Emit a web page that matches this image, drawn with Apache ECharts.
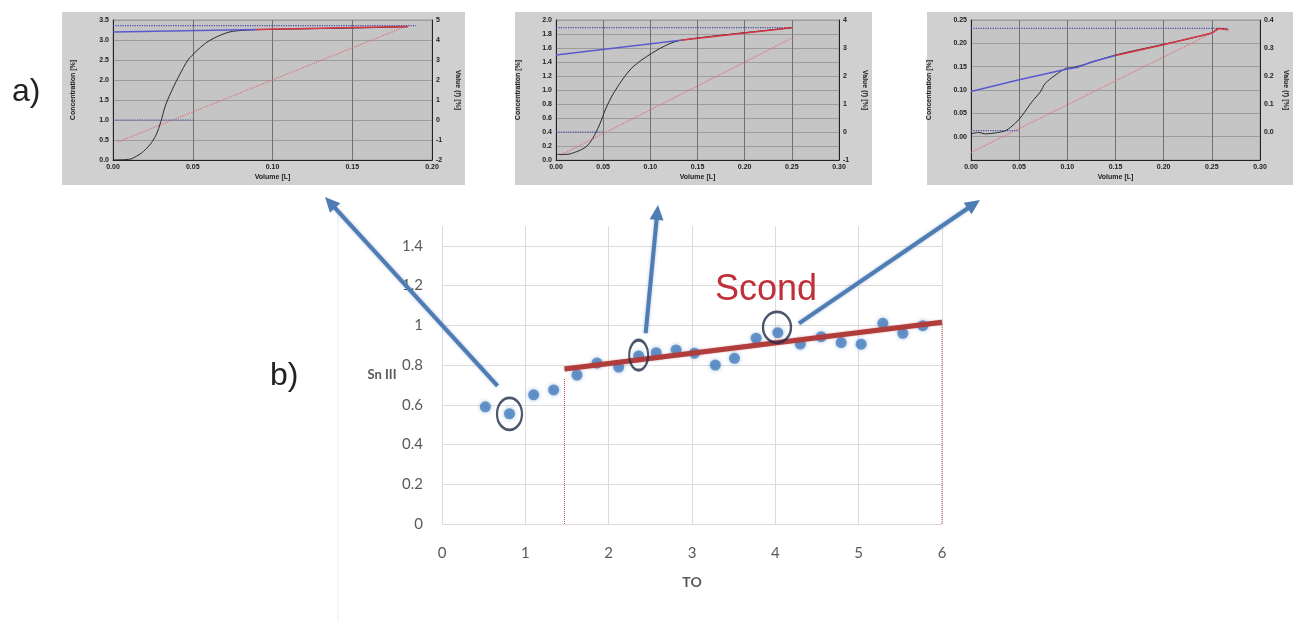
<!DOCTYPE html>
<html><head><meta charset="utf-8">
<script src="https://cdn.jsdelivr.net/npm/echarts@6/dist/echarts.min.js"></script>
<style>html,body{margin:0;padding:0;background:#fff}#c{width:1300px;height:621px}</style>
</head><body><div id="c"></div>
<script>
// ---------- main chart (b) data ----------
const toValues = [0.52,0.81,1.10,1.34,1.62,1.86,2.12,2.36,2.57,2.81,3.03,3.28,3.51,3.77,4.03,4.30,4.55,4.79,5.03,5.29,5.53,5.77];
const snValues = [0.59,0.555,0.65,0.675,0.75,0.81,0.79,0.846,0.862,0.876,0.86,0.80,0.834,0.935,0.963,0.906,0.943,0.913,0.905,1.01,0.96,0.998];
const trendTO = [1.47, 6.0];
const trendSn = [0.78, 1.015];
const cutTO = [1.47, 6.0];
const cutSnTop = [0.73, 1.0];
const circledTO = [0.81, 2.36, 4.02];
const circledSn = [0.554, 0.85, 0.99];
const mainXTicks = [0,1,2,3,4,5,6];
const mainYTicks = [0,0.2,0.4,0.6,0.8,1,1.2,1.4];

// ---------- inset 1 data ----------
const in1Titration = [[0,0],[0.008,0.01],[0.0115,0.03],[0.0177,0.17],[0.023,0.375],[0.027,0.625],[0.030,0.96],[0.033,1.375],[0.0375,1.79],[0.0417,2.125],[0.047,2.5],[0.052,2.71],[0.058,2.92],[0.065,3.08],[0.073,3.2],[0.081,3.24],[0.092,3.26],[0.12,3.28],[0.15,3.3],[0.185,3.33]];
const in1FitLow = [[0,3.2],[0.09,3.26]];
const in1FitHigh = [[0.09,3.26],[0.185,3.34]];
const in1Plateau = [[0,3.36],[0.19,3.36]];
const in1Start = [[0,1.0],[0.05,1.0]];
const in1Slope = [[0.003,0.45],[0.183,3.33]];

// ---------- inset 2 data ----------
const in2Titration = [[0,0.08],[0.011,0.08],[0.022,0.12],[0.032,0.19],[0.039,0.31],[0.046,0.5],[0.053,0.74],[0.060,0.93],[0.070,1.14],[0.080,1.31],[0.091,1.43],[0.101,1.52],[0.111,1.6],[0.122,1.67],[0.132,1.71],[0.18,1.79],[0.25,1.89]];
const in2FitLow = [[0,1.5],[0.132,1.71]];
const in2FitHigh = [[0.132,1.71],[0.25,1.89]];
const in2Plateau = [[0,1.89],[0.25,1.89]];
const in2Start = [[0,0.4],[0.05,0.4]];
const in2Slope = [[0.005,0.07],[0.25,1.74]];

// ---------- inset 3 data ----------
const in3Titration = [[0,0.006],[0.008,0.009],[0.015,0.006],[0.025,0.008],[0.036,0.013],[0.046,0.029],[0.053,0.045],[0.063,0.074],[0.072,0.096],[0.077,0.114],[0.087,0.131],[0.098,0.146],[0.105,0.148],[0.12,0.156],[0.15,0.175],[0.2,0.198],[0.25,0.222],[0.257,0.232],[0.267,0.229]];
const in3FitLow = [[0,0.097],[0.05,0.122],[0.10,0.145],[0.11,0.148],[0.125,0.16],[0.15,0.174]];
const in3FitHigh = [[0.15,0.174],[0.2,0.197],[0.25,0.222],[0.257,0.232],[0.267,0.229]];
const in3Plateau = [[0,0.232],[0.267,0.232]];
const in3Start = [[0,0.013],[0.05,0.013]];
const in3Slope = [[0,-0.034],[0.257,0.229]];

const panelLabels = ['a)', 'b)'];
const insetXName = 'Volume [L]';
const insetYName = 'Concentration [%]';
const insetY2Name = 'Value (f) [%]';
const mainXName = 'TO';
const mainYName = 'Sn III';
const fitLabel = 'Scond';

// ---------- build ----------
const chart = echarts.init(document.getElementById('c'), null, {renderer: 'canvas'});
const F = 'Lato, "Open Sans", sans-serif';
const IF = '"Liberation Sans", Arial, sans-serif';

function insetX(idx, gridIndex, max) {
  return {type: 'value', gridIndex, min: 0, max, interval: 0.05,
    name: insetXName, nameLocation: 'middle', nameGap: 14,
    nameTextStyle: {fontSize: 7, fontWeight: 'bold', color: '#222', fontFamily: IF},
    axisLine: {show: true, onZero: false, lineStyle: {color: '#222', width: 1}},
    axisTick: {show: false},
    axisLabel: {fontSize: 7, fontWeight: 'bold', color: '#222', fontFamily: IF, margin: 4, formatter: v => v.toFixed(2)},
    splitLine: {show: true, lineStyle: {color: '#707070', width: 1}}};
}
function insetY(gridIndex, min, max, interval, dec, gap) {
  return {type: 'value', gridIndex, min, max, interval,
    name: insetYName, nameLocation: 'middle', nameGap: gap,
    nameTextStyle: {fontSize: 7, fontWeight: 'bold', color: '#222', fontFamily: IF},
    axisLine: {show: true, onZero: false, lineStyle: {color: '#222', width: 1}},
    axisTick: {show: false},
    axisLabel: {fontSize: 7, fontWeight: 'bold', color: '#222', fontFamily: IF, margin: 4, formatter: v => v.toFixed(dec), showMinLabel: min >= 0},
    splitLine: {show: true, lineStyle: {color: '#9c9c9c', width: 1}}};
}
function insetY2(gridIndex, min, max, interval, dec, hideMin) {
  return {type: 'value', gridIndex, min, max, interval, position: 'right',
    name: insetY2Name, nameLocation: 'middle', nameGap: 22, nameRotate: -90,
    nameTextStyle: {fontSize: 7, fontWeight: 'bold', color: '#222', fontFamily: IF},
    axisLine: {show: true, onZero: false, lineStyle: {color: '#222', width: 1}},
    axisTick: {show: false},
    axisLabel: {fontSize: 7, fontWeight: 'bold', color: '#222', fontFamily: IF, margin: 4, formatter: v => v.toFixed(dec), showMinLabel: !hideMin},
    splitLine: {show: false}};
}
function ln(data, xi, yi, color, type, width, smooth) {
  return {type: 'line', xAxisIndex: xi, yAxisIndex: yi, data, symbol: 'none', smooth: smooth || false,
    lineStyle: {color, type, width}, silent: true, animation: false, z: 3};
}
function insetSeries(xi, yi, tit, low, high, plat, start, slope) {
  return [
    ln(slope, xi, yi, '#e0707e', 'dotted', 1.2),
    ln(plat, xi, yi, '#4a4aa8', 'dotted', 1.2),
    ln(start, xi, yi, '#4a4aa8', 'dotted', 1.2),
    ln(tit, xi, yi, '#2a2a2a', 'solid', 1, 0.3),
    ln(low, xi, yi, '#5a5ad0', 'solid', 1.5),
    ln(high, xi, yi, '#d83545', 'solid', 1.5)
  ];
}

const option = {
  animation: false,
  backgroundColor: '#ffffff',
  grid: [
    {left: 442, top: 226, width: 500, height: 298},
    {left: 113, top: 20, width: 319, height: 140, show: true, backgroundColor: '#c5c5c5', borderColor: '#9a9a9a', borderWidth: 1},
    {left: 556, top: 20, width: 283, height: 140, show: true, backgroundColor: '#c5c5c5', borderColor: '#9a9a9a', borderWidth: 1},
    {left: 971, top: 20, width: 289, height: 140, show: true, backgroundColor: '#c5c5c5', borderColor: '#9a9a9a', borderWidth: 1}
  ],
  xAxis: [
    {type: 'value', gridIndex: 0, min: mainXTicks[0], max: mainXTicks[mainXTicks.length - 1], interval: 1,
      name: mainXName, nameLocation: 'middle', nameGap: 51,
      nameTextStyle: {fontSize: 14, fontWeight: 'bold', color: '#595959', fontFamily: F},
      axisLine: {show: false}, axisTick: {show: false},
      axisLabel: {fontSize: 15, color: '#595959', fontFamily: F, margin: 22},
      splitLine: {show: true, lineStyle: {color: '#dcdcdc', width: 1}}},
    insetX(1, 1, 0.2),
    insetX(2, 2, 0.3),
    insetX(3, 3, 0.3)
  ],
  yAxis: [
    {type: 'value', gridIndex: 0, min: mainYTicks[0], max: 1.5, interval: 0.2,
      name: mainYName, nameLocation: 'middle', nameGap: 60, nameRotate: 0,
      nameTextStyle: {fontSize: 13, fontWeight: 'bold', color: '#595959', fontFamily: F, align: 'center', padding: [10, 0, 0, 0]},
      axisLine: {show: false}, axisTick: {show: false},
      axisLabel: {fontSize: 15, color: '#595959', fontFamily: F, margin: 19, showMaxLabel: false,
        formatter: v => (mainYTicks.indexOf(Math.round(v * 10) / 10) >= 0 ? String(Math.round(v * 10) / 10) : '')},
      splitLine: {show: true, showMaxLine: false, lineStyle: {color: '#dcdcdc', width: 1}}},
    insetY(1, 0, 3.5, 0.5, 1, 36),
    insetY2(1, -2, 5, 1, 0, false),
    insetY(2, 0, 2.0, 0.2, 1, 34),
    insetY2(2, -1, 4, 1, 0, false),
    insetY(3, -0.05, 0.25, 0.05, 2, 38),
    insetY2(3, -0.1, 0.4, 0.1, 1, true)
  ],
  series: [
    {type: 'line', xAxisIndex: 0, yAxisIndex: 0, data: [[cutTO[0], 0], [cutTO[0], cutSnTop[0]]], symbol: 'none',
      lineStyle: {color: '#c0504d', type: 'dotted', width: 1}, silent: true, z: 2},
    {type: 'line', xAxisIndex: 0, yAxisIndex: 0, data: [[cutTO[1], 0], [cutTO[1], cutSnTop[1]]], symbol: 'none',
      lineStyle: {color: '#c0504d', type: 'dotted', width: 1}, silent: true, z: 2},
    {type: 'scatter', xAxisIndex: 0, yAxisIndex: 0, data: toValues.map((x, i) => [x, snValues[i]]),
      symbolSize: 11, itemStyle: {color: '#4a7fc0', shadowBlur: 4, shadowColor: 'rgba(74,127,192,0.6)'}, z: 3, silent: true},
    {type: 'line', xAxisIndex: 0, yAxisIndex: 0, data: trendTO.map((x, i) => [x, trendSn[i]]), symbol: 'none',
      lineStyle: {color: '#b13c3c', width: 5, shadowBlur: 2, shadowColor: 'rgba(177,60,60,0.5)'}, silent: true, z: 4},
    {type: 'scatter', xAxisIndex: 0, yAxisIndex: 0, data: circledTO.map((x, i) => [x, circledSn[i]]),
      symbol: 'circle', symbolSize: (v, p) => [[25, 32], [19, 30], [28, 31]][p.dataIndex],
      itemStyle: {color: 'rgba(0,0,0,0)', borderColor: '#1f2d48', borderWidth: 2.5}, silent: true, z: 5}
  ].concat(
    insetSeries(1, 1, in1Titration, in1FitLow, in1FitHigh, in1Plateau, in1Start, in1Slope),
    insetSeries(2, 3, in2Titration, in2FitLow, in2FitHigh, in2Plateau, in2Start, in2Slope),
    insetSeries(3, 5, in3Titration, in3FitLow, in3FitHigh, in3Plateau, in3Start, in3Slope)
  )
};
chart.setOption(option);

// ---------- annotations (boxes, arrows, labels) ----------
function arrow(id, S, T) {
  const dx = T[0] - S[0], dy = T[1] - S[1];
  const len = Math.sqrt(dx * dx + dy * dy);
  const ux = dx / len, uy = dy / len, px = -uy, py = ux;
  const L = 15, W = 7;
  const bx = T[0] - ux * L, by = T[1] - uy * L;
  return [
    {type: 'line', id: id + 'l', z: 10, silent: true,
      shape: {x1: S[0], y1: S[1], x2: T[0] - ux * (L - 3), y2: T[1] - uy * (L - 3)},
      style: {stroke: '#4f7db3', lineWidth: 4, shadowBlur: 3, shadowColor: 'rgba(79,125,179,0.5)'}},
    {type: 'polygon', id: id + 'h', z: 10, silent: true,
      shape: {points: [[T[0], T[1]], [bx + px * W, by + py * W], [bx - px * W, by - py * W]]},
      style: {fill: '#4f7db3'}}
  ];
}
const c = circledTO.map((x, i) => chart.convertToPixel({xAxisIndex: 0, yAxisIndex: 0}, [x, circledSn[i]]));
const graphics = [
  {type: 'rect', id: 'box1', z: -1, silent: true, shape: {x: 62, y: 12, width: 403, height: 173}, style: {fill: '#d0d0d0'}},
  {type: 'rect', id: 'box2', z: -1, silent: true, shape: {x: 515, y: 12, width: 357, height: 173}, style: {fill: '#d0d0d0'}},
  {type: 'rect', id: 'box3', z: -1, silent: true, shape: {x: 927, y: 12, width: 366, height: 173}, style: {fill: '#d0d0d0'}},
  {type: 'line', id: 'frame', z: -1, silent: true, shape: {x1: 338, y1: 212, x2: 338, y2: 621}, style: {stroke: '#ececec', lineWidth: 1}},
  {type: 'text', id: 'ta', z: 10, silent: true, style: {text: panelLabels[0], x: 12, y: 92, verticalAlign: 'middle', font: '32px "Liberation Sans", Arial, sans-serif', fill: '#222'}},
  {type: 'text', id: 'tb', z: 10, silent: true, style: {text: panelLabels[1], x: 270, y: 376, verticalAlign: 'middle', font: '32px "Liberation Sans", Arial, sans-serif', fill: '#222'}},
  {type: 'text', id: 'ts', z: 10, silent: true, style: {text: fitLabel, x: 766, y: 290, align: 'center', verticalAlign: 'middle', font: '36px "Liberation Sans", Arial, sans-serif', fill: '#c0303a'}}
].concat(
  arrow('a1', [c[0][0] - 12, c[0][1] - 28], [325, 197]),
  arrow('a2', [c[1][0] + 7, c[1][1] - 22], [658, 205]),
  arrow('a3', [c[2][0] + 22, c[2][1] - 4], [980, 200])
);
chart.setOption({graphic: graphics});
</script></body></html>
